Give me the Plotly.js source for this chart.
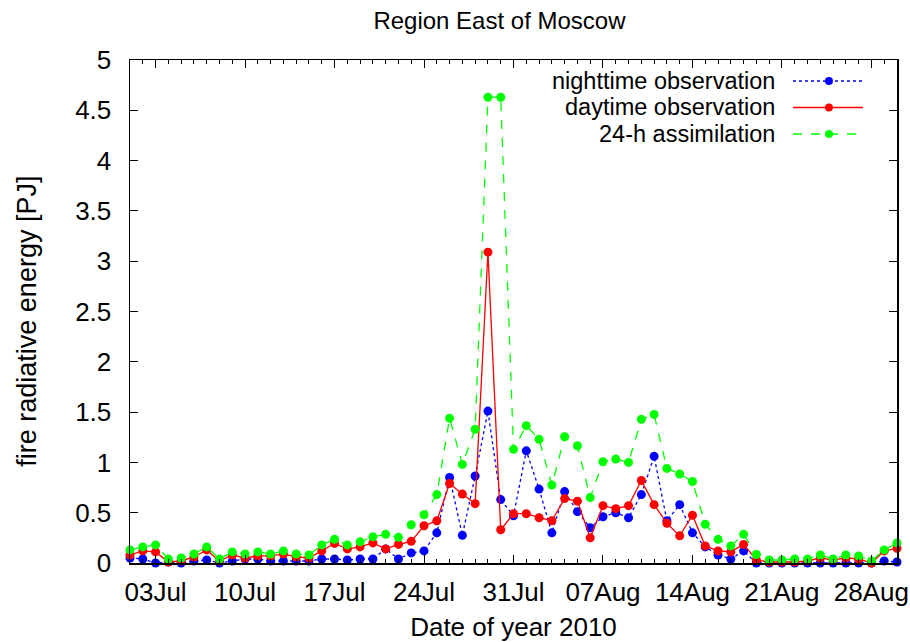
<!DOCTYPE html>
<html>
<head>
<meta charset="utf-8">
<script src="https://cdn.plot.ly/plotly-3.0.1.min.js"></script>
<style>html,body{margin:0;padding:0;background:#fff;}#chart{width:910px;height:642px;}</style>
</head>
<body>
<div id="chart"></div>
<script>
const dates = [
"2010-07-01","2010-07-02","2010-07-03","2010-07-04","2010-07-05","2010-07-06","2010-07-07","2010-07-08","2010-07-09","2010-07-10",
"2010-07-11","2010-07-12","2010-07-13","2010-07-14","2010-07-15","2010-07-16","2010-07-17","2010-07-18","2010-07-19","2010-07-20",
"2010-07-21","2010-07-22","2010-07-23","2010-07-24","2010-07-25","2010-07-26","2010-07-27","2010-07-28","2010-07-29","2010-07-30",
"2010-07-31","2010-08-01","2010-08-02","2010-08-03","2010-08-04","2010-08-05","2010-08-06","2010-08-07","2010-08-08","2010-08-09",
"2010-08-10","2010-08-11","2010-08-12","2010-08-13","2010-08-14","2010-08-15","2010-08-16","2010-08-17","2010-08-18","2010-08-19",
"2010-08-20","2010-08-21","2010-08-22","2010-08-23","2010-08-24","2010-08-25","2010-08-26","2010-08-27","2010-08-28","2010-08-29",
"2010-08-30"];

const nighttime = [
0.05,0.04,0.00,0.01,0.00,0.02,0.03,0.00,0.02,0.04,
0.04,0.02,0.02,0.02,0.02,0.04,0.04,0.03,0.04,0.04,
0.14,0.04,0.10,0.12,0.30,0.85,0.275,0.865,1.51,0.63,
0.47,1.115,0.735,0.30,0.71,0.51,0.35,0.46,0.50,0.45,
0.68,1.06,0.42,0.58,0.30,0.16,0.08,0.04,0.12,0.00,
0.00,0.00,0.00,0.00,0.00,0.00,0.00,0.00,0.00,0.02,
0.01];

const daytime = [
0.08,0.12,0.11,0.01,0.02,0.06,0.13,0.02,0.08,0.05,
0.07,0.07,0.09,0.06,0.05,0.12,0.195,0.14,0.16,0.20,
0.14,0.185,0.215,0.37,0.42,0.79,0.685,0.59,3.09,0.33,
0.49,0.49,0.45,0.42,0.64,0.615,0.25,0.57,0.54,0.57,
0.82,0.58,0.395,0.27,0.475,0.17,0.12,0.11,0.185,0.03,
0.01,0.01,0.01,0.02,0.05,0.03,0.05,0.04,0.00,0.12,
0.145];

const assimilation = [
0.13,0.16,0.18,0.04,0.05,0.09,0.16,0.04,0.11,0.09,
0.11,0.09,0.12,0.09,0.08,0.18,0.235,0.18,0.21,0.26,
0.285,0.255,0.38,0.48,0.68,1.44,0.98,1.33,4.63,4.63,
1.13,1.365,1.23,0.775,1.255,1.165,0.65,1.007,1.033,1.0,
1.428,1.477,0.94,0.885,0.81,0.385,0.235,0.17,0.285,0.085,
0.03,0.03,0.04,0.04,0.08,0.04,0.08,0.07,0.02,0.13,
0.2];

const xTickVals = ["2010-07-03","2010-07-10","2010-07-17","2010-07-24","2010-07-31","2010-08-07","2010-08-14","2010-08-21","2010-08-28"];
const xTickText = ["03Jul","10Jul","17Jul","24Jul","31Jul","07Aug","14Aug","21Aug","28Aug"];
const yTickVals = [0,0.5,1,1.5,2,2.5,3,3.5,4,4.5,5];
const yTickText = ["0","0.5","1","1.5","2","2.5","3","3.5","4","4.5","5"];
const seriesNames = ["nighttime observation","daytime observation","24-h assimilation"];
const colors = ["#0000ff","#ff0000","#00ff00"];
const dashes = ["dot","solid","dash"];

const FONT = "Liberation Sans, Arial, sans-serif";
const ys = [nighttime, daytime, assimilation];

const traces = ys.map((y, k) => ({
  type: "scatter", mode: "lines+markers", x: dates, y: y,
  name: seriesNames[k],
  line: {color: colors[k], width: 1.3, dash: dashes[k]},
  marker: {color: colors[k], size: 9, symbol: "circle"},
  showlegend: false, cliponaxis: false
}));

// custom gnuplot-like legend (text right-aligned, sample to the right)
const legY = [0.9583, 0.9056, 0.8529];
const annotations = [];
const shapes = [];
for (let k = 0; k < 3; k++) {
  annotations.push({xref:"paper", yref:"paper", x:0.8423, y:legY[k], xanchor:"right", yanchor:"middle",
    borderpad: 0,
    text: seriesNames[k], showarrow:false, font:{family:FONT, size:23.5, color:"#000"}});
  shapes.push({type:"line", xref:"paper", yref:"paper", x0:0.8644, x1:0.9557, y0:legY[k], y1:legY[k],
    line:{color:colors[k], width:1.3, dash:dashes[k]}});
  shapes.push({type:"circle", xref:"paper", yref:"paper", xsizemode:"pixel", ysizemode:"pixel",
    xanchor:0.9113, yanchor:legY[k], x0:-4, x1:4, y0:-4, y1:4,
    fillcolor:colors[k], line:{color:colors[k], width:0}});
}
// y-axis title (gnuplot places it slightly below the plot centre)
annotations.push({xref:"paper", yref:"paper", x:0, xshift:-103, y:0.4797, xanchor:"center", yanchor:"middle",
  textangle:-90, text:"fire radiative energy [PJ]", showarrow:false, font:{family:FONT, size:27, color:"#000"}});

const layout = {
  width: 910, height: 642,
  margin: {l:130, r:13, t:60, b:79},
  paper_bgcolor: "#fff", plot_bgcolor: "#fff",
  font: {family: FONT, size: 26, color: "#000"},
  title: {text: "Region East of Moscow", font:{family:FONT, size:24, color:"#000"},
          x: 0.4817, xref: "paper", xanchor: "center", y: 0.968, yanchor: "middle"},
  xaxis: {
    type: "date", range: ["2010-07-01","2010-08-30"],
    tickmode: "array", tickvals: xTickVals, ticktext: xTickText,
    ticks: "inside", ticklen: 8, tickwidth: 1, tickcolor: "#000",
    minor: {dtick: 86400000, ticks: "inside", ticklen: 4, tickcolor: "#000", tickwidth: 1, showgrid: false},
    showline: true, linecolor: "#000", linewidth: 1.5, mirror: "allticks",
    showgrid: false, zeroline: false,
    tickfont: {family: FONT, size: 26, color: "#000"},
    ticklabelstandoff: 5,
    title: {text: "Date of year 2010", font:{family:FONT, size:26, color:"#000"}, standoff: 13}
  },
  yaxis: {
    range: [0, 5], tickmode: "array", tickvals: yTickVals, ticktext: yTickText,
    ticks: "inside", ticklen: 8, tickwidth: 1, tickcolor: "#000",
    showline: true, linecolor: "#000", linewidth: 1.5, mirror: "allticks",
    showgrid: false, zeroline: false,
    tickfont: {family: FONT, size: 26, color: "#000"},
    ticklabelstandoff: 12
  },
  annotations: annotations,
  shapes: shapes,
  showlegend: false
};

Plotly.newPlot("chart", traces, layout, {displayModeBar: false, staticPlot: true});
</script>
</body>
</html>
